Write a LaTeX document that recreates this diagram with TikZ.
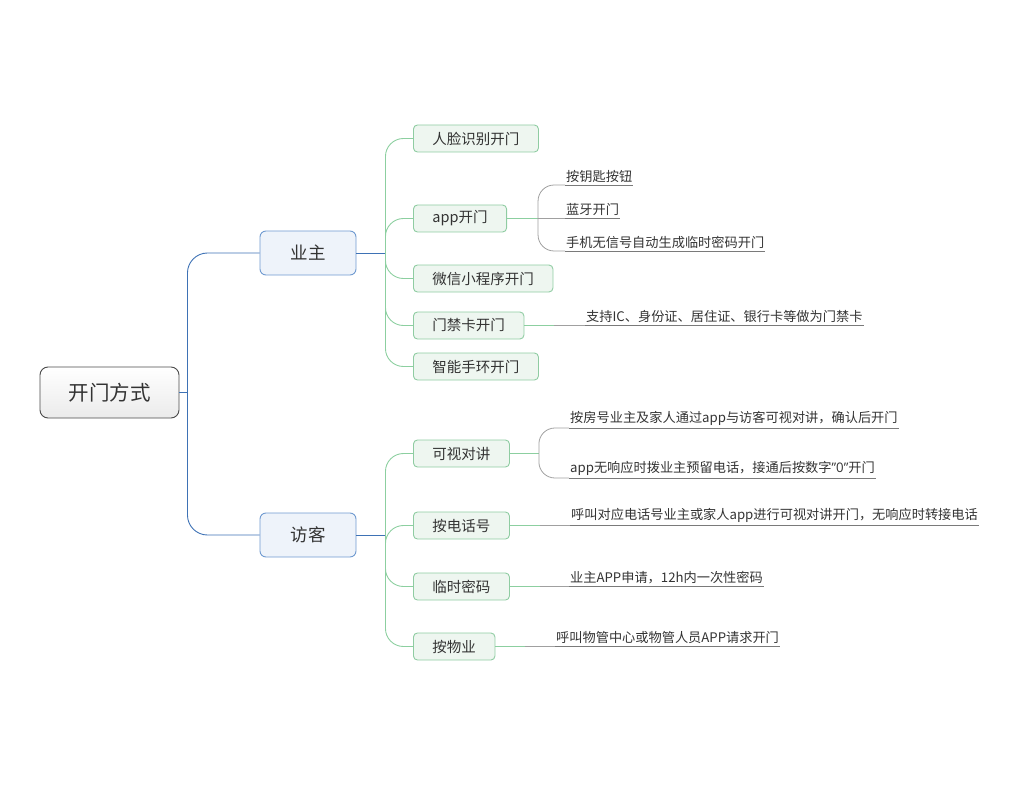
\documentclass[tikz,border=0pt]{standalone}
\usepackage{fontspec}
\setmainfont{Noto Sans CJK SC}
\newfontfamily\latinfont{Open Sans}
\usepackage{tikz}
\usetikzlibrary{positioning}

\definecolor{txt}{HTML}{333333}
\definecolor{rootborder}{HTML}{4A4A4A}
\definecolor{hostfill}{HTML}{EEF3FA}
\definecolor{hostborder}{HTML}{6F9AD0}
\definecolor{bluelink}{HTML}{3E72B5}
\definecolor{itemfill}{HTML}{EEF6F0}
\definecolor{itemborder}{HTML}{8FCCA2}
\definecolor{greenlink}{HTML}{8CCFA0}
\definecolor{graylink}{HTML}{A0A0A0}
\definecolor{underline}{HTML}{7A7A7A}

\tikzset{
  rootbox/.style={draw=rootborder,line width=0.9pt,rounded corners=8pt,
    top color=white,bottom color=black!8,text=txt,
    minimum width=139pt,minimum height=51pt,font=\fontsize{20.5}{24}\selectfont},
  hostbox/.style={draw=hostborder,line width=0.9pt,rounded corners=6pt,fill=hostfill,
    text=txt,minimum width=96pt,minimum height=44pt,font=\fontsize{17.5}{21}\selectfont},
  itembox/.style={draw=itemborder,line width=0.9pt,rounded corners=4pt,fill=itemfill,
    text=txt,inner xsep=19pt,minimum height=27pt,anchor=west,
    font=\fontsize{14.5}{17}\selectfont},
  leaf/.style={anchor=south west,inner xsep=1pt,inner ysep=2.5pt,text=txt,
    font=\fontsize{13.2}{15}\selectfont},
  blueedge/.style={draw=bluelink,line width=0.9pt,rounded corners=20pt},
  greenedge/.style={draw=greenlink,line width=0.9pt,rounded corners=18pt},
  grayedge/.style={draw=graylink,line width=0.8pt,rounded corners=16pt},
  lineedge/.style={draw=underline,line width=0.8pt}
}

\begin{document}
\begin{tikzpicture}[x=1pt,y=-1pt]
    \useasboundingbox (0,0) rectangle (1024,786);

    % root and the two groups
    \node[rootbox] (root) at (109.5,392.5) {开门方式};
    \node[hostbox] (owner) at (308,253) {业主};
    \node[hostbox] (guest) at (308,535) {访客};

    % owner items
    \begin{scope}[every node/.style={itembox}]
    \node (face) at (413,138.5) {人脸识别开门};
    \node (app) at (413,218.5) {app开门};
    \node (wx) at (413,278.5) {微信小程序开门};
    \node (card) at (413,325.5) {门禁卡开门};
    \node (band) at (413,366.5) {智能手环开门};
    % guest items
    \node (video) at (413,453.5) {可视对讲};
    \node (phone) at (413,525.5) {按电话号};
    \node (code) at (413,586.5) {临时密码};
    \node (prop) at (413,646.5) {按物业};
    \end{scope}

    % leaves
    \begin{scope}[every node/.style={leaf}]
    \node (key) at (565,185) {按钥匙按钮};
    \node (bt) at (565,218.5) {蓝牙开门};
    \node (offline) at (565,251) {手机无信号自动生成临时密码开门};
    \node (cardtxt) at (585,325.5) {支持IC、身份证、居住证、银行卡等做为门禁卡};
    \node (room) at (569,428) {按房号业主及家人通过app与访客可视对讲，确认后开门};
    \node (noans) at (569,478) {app无响应时拨业主预留电话，接通后按数字{\latinfont ”0”}开门};
    \node (calltxt) at (570,525.5) {呼叫对应电话号业主或家人app进行可视对讲开门，无响应时转接电话};
    \node (codetxt) at (569,586.5) {业主APP申请，12h内一次性密码};
    \node (proptxt) at (555,646.5) {呼叫物管中心或物管人员APP请求开门};
    \end{scope}

    % root branches
    \draw[draw=bluelink,line width=0.9pt] (root.east) -- ++(8,0) coordinate (rj);
    \draw[blueedge] (owner.west) -- (owner.west -| rj) -- (guest.west -| rj) -- (guest.west);

    % owner branches
    \draw[draw=bluelink,line width=0.9pt] (owner.east) -- ++(29,0) coordinate (oj);
    \foreach \n in {face,app,wx,card,band}
        \draw[greenedge] (oj) |- (\n.west);

    % guest branches
    \draw[draw=bluelink,line width=0.9pt] (guest.east) -- ++(29,0) coordinate (gj);
    \foreach \n in {video,phone,code,prop}
        \draw[greenedge] (gj) |- (\n.west);

    % app leaves
    \draw[greenedge] (app.east) -- ++(31,0) coordinate (aj);
    \draw[grayedge] (aj) |- (key.south west);
    \draw[grayedge] (aj) -- (bt.south west);
    \draw[grayedge] (aj) |- (offline.south west);

    % video leaves
    \draw[greenedge] (video.east) -- ++(29,0) coordinate (vj);
    \draw[grayedge] (vj) |- (room.south west);
    \draw[grayedge] (vj) |- (noans.south west);

    % single leaves
    \draw[greenedge] (card.east) -- ++(30,0) coordinate (cj);
    \draw[grayedge] (cj) -- (cardtxt.south west);
    \draw[greenedge] (phone.east) -- ++(30,0) coordinate (pj);
    \draw[grayedge] (pj) -- (calltxt.south west);
    \draw[greenedge] (code.east) -- ++(30,0) coordinate (kj);
    \draw[grayedge] (kj) -- (codetxt.south west);
    \draw[greenedge] (prop.east) -- ++(30,0) coordinate (mj);
    \draw[grayedge] (mj) -- (proptxt.south west);

    % underlines
    \foreach \n in {key,bt,offline,cardtxt,room,noans,calltxt,codetxt,proptxt}
        \draw[lineedge] (\n.south west) -- (\n.south east);
\end{tikzpicture}
\end{document}
